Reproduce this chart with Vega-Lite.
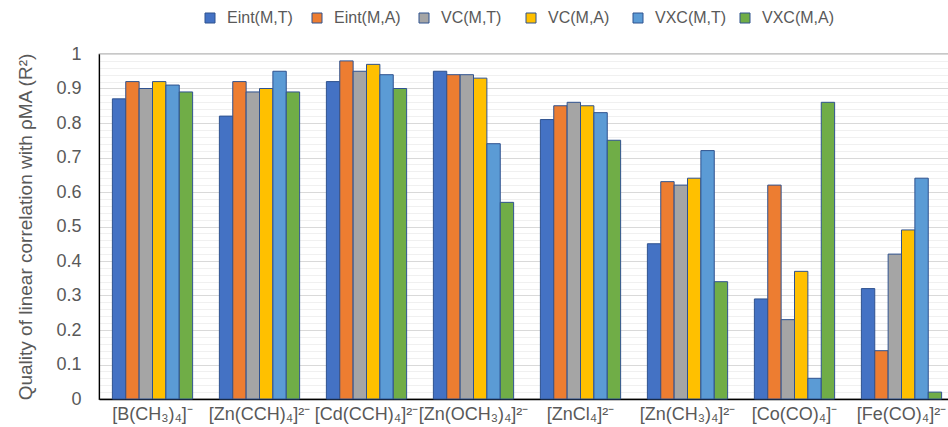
{
  "$schema": "https://vega.github.io/schema/vega-lite/v6.json",
  "width": 856,
  "height": 345,
  "autosize": {"type": "none"},
  "padding": {"left": 99, "top": 54, "right": 0, "bottom": 28},
  "background": "white",
  "config": {"font": "Liberation Sans", "view": {"stroke": "#262626", "strokeWidth": 1.2}},
  "datasets": {
    "vals": [
      {"complex": "[B(CH₃)₄]⁻", "series": "Eint(M,T)", "r2": 0.87},
      {"complex": "[B(CH₃)₄]⁻", "series": "Eint(M,A)", "r2": 0.92},
      {"complex": "[B(CH₃)₄]⁻", "series": "VC(M,T)", "r2": 0.90},
      {"complex": "[B(CH₃)₄]⁻", "series": "VC(M,A)", "r2": 0.92},
      {"complex": "[B(CH₃)₄]⁻", "series": "VXC(M,T)", "r2": 0.91},
      {"complex": "[B(CH₃)₄]⁻", "series": "VXC(M,A)", "r2": 0.89},
      {"complex": "[Zn(CCH)₄]²⁻", "series": "Eint(M,T)", "r2": 0.82},
      {"complex": "[Zn(CCH)₄]²⁻", "series": "Eint(M,A)", "r2": 0.92},
      {"complex": "[Zn(CCH)₄]²⁻", "series": "VC(M,T)", "r2": 0.89},
      {"complex": "[Zn(CCH)₄]²⁻", "series": "VC(M,A)", "r2": 0.90},
      {"complex": "[Zn(CCH)₄]²⁻", "series": "VXC(M,T)", "r2": 0.95},
      {"complex": "[Zn(CCH)₄]²⁻", "series": "VXC(M,A)", "r2": 0.89},
      {"complex": "[Cd(CCH)₄]²⁻", "series": "Eint(M,T)", "r2": 0.92},
      {"complex": "[Cd(CCH)₄]²⁻", "series": "Eint(M,A)", "r2": 0.98},
      {"complex": "[Cd(CCH)₄]²⁻", "series": "VC(M,T)", "r2": 0.95},
      {"complex": "[Cd(CCH)₄]²⁻", "series": "VC(M,A)", "r2": 0.97},
      {"complex": "[Cd(CCH)₄]²⁻", "series": "VXC(M,T)", "r2": 0.94},
      {"complex": "[Cd(CCH)₄]²⁻", "series": "VXC(M,A)", "r2": 0.90},
      {"complex": "[Zn(OCH₃)₄]²⁻", "series": "Eint(M,T)", "r2": 0.95},
      {"complex": "[Zn(OCH₃)₄]²⁻", "series": "Eint(M,A)", "r2": 0.94},
      {"complex": "[Zn(OCH₃)₄]²⁻", "series": "VC(M,T)", "r2": 0.94},
      {"complex": "[Zn(OCH₃)₄]²⁻", "series": "VC(M,A)", "r2": 0.93},
      {"complex": "[Zn(OCH₃)₄]²⁻", "series": "VXC(M,T)", "r2": 0.74},
      {"complex": "[Zn(OCH₃)₄]²⁻", "series": "VXC(M,A)", "r2": 0.57},
      {"complex": "[ZnCl₄]²⁻", "series": "Eint(M,T)", "r2": 0.81},
      {"complex": "[ZnCl₄]²⁻", "series": "Eint(M,A)", "r2": 0.85},
      {"complex": "[ZnCl₄]²⁻", "series": "VC(M,T)", "r2": 0.86},
      {"complex": "[ZnCl₄]²⁻", "series": "VC(M,A)", "r2": 0.85},
      {"complex": "[ZnCl₄]²⁻", "series": "VXC(M,T)", "r2": 0.83},
      {"complex": "[ZnCl₄]²⁻", "series": "VXC(M,A)", "r2": 0.75},
      {"complex": "[Zn(CH₃)₄]²⁻", "series": "Eint(M,T)", "r2": 0.45},
      {"complex": "[Zn(CH₃)₄]²⁻", "series": "Eint(M,A)", "r2": 0.63},
      {"complex": "[Zn(CH₃)₄]²⁻", "series": "VC(M,T)", "r2": 0.62},
      {"complex": "[Zn(CH₃)₄]²⁻", "series": "VC(M,A)", "r2": 0.64},
      {"complex": "[Zn(CH₃)₄]²⁻", "series": "VXC(M,T)", "r2": 0.72},
      {"complex": "[Zn(CH₃)₄]²⁻", "series": "VXC(M,A)", "r2": 0.34},
      {"complex": "[Co(CO)₄]⁻", "series": "Eint(M,T)", "r2": 0.29},
      {"complex": "[Co(CO)₄]⁻", "series": "Eint(M,A)", "r2": 0.62},
      {"complex": "[Co(CO)₄]⁻", "series": "VC(M,T)", "r2": 0.23},
      {"complex": "[Co(CO)₄]⁻", "series": "VC(M,A)", "r2": 0.37},
      {"complex": "[Co(CO)₄]⁻", "series": "VXC(M,T)", "r2": 0.06},
      {"complex": "[Co(CO)₄]⁻", "series": "VXC(M,A)", "r2": 0.86},
      {"complex": "[Fe(CO)₄]²⁻", "series": "Eint(M,T)", "r2": 0.32},
      {"complex": "[Fe(CO)₄]²⁻", "series": "Eint(M,A)", "r2": 0.14},
      {"complex": "[Fe(CO)₄]²⁻", "series": "VC(M,T)", "r2": 0.42},
      {"complex": "[Fe(CO)₄]²⁻", "series": "VC(M,A)", "r2": 0.49},
      {"complex": "[Fe(CO)₄]²⁻", "series": "VXC(M,T)", "r2": 0.64},
      {"complex": "[Fe(CO)₄]²⁻", "series": "VXC(M,A)", "r2": 0.02}
    ]
  },
  "data": {"name": "vals"},
  "mark": {"type": "bar", "stroke": "#2F528F", "strokeWidth": 1},
  "encoding": {
    "x": {
      "field": "complex",
      "type": "nominal",
      "sort": null,
      "scale": {"paddingInner": 0.25, "paddingOuter": 0.125},
      "axis": {
        "title": null,
        "labelAngle": 0,
        "labelFontSize": 18,
        "labelColor": "#595959",
        "labelPadding": 6,
        "labelLimit": 0,
        "ticks": false,
        "domainColor": "#000000",
        "domainWidth": 1.5
      }
    },
    "xOffset": {
      "field": "series",
      "type": "nominal",
      "sort": ["Eint(M,T)", "Eint(M,A)", "VC(M,T)", "VC(M,A)", "VXC(M,T)", "VXC(M,A)"],
      "scale": {"paddingInner": 0, "paddingOuter": 0}
    },
    "y": {
      "field": "r2",
      "type": "quantitative",
      "scale": {"domain": [0, 1], "nice": false},
      "axis": {
        "values": [0, 0.02, 0.04, 0.06, 0.08, 0.1, 0.12, 0.14, 0.16, 0.18, 0.2, 0.22, 0.24, 0.26, 0.28, 0.3, 0.32, 0.34, 0.36, 0.38, 0.4, 0.42, 0.44, 0.46, 0.48, 0.5, 0.52, 0.54, 0.56, 0.58, 0.6, 0.62, 0.64, 0.66, 0.68, 0.7, 0.72, 0.74, 0.76, 0.78, 0.8, 0.82, 0.84, 0.86, 0.88, 0.9, 0.92, 0.94, 0.96, 0.98, 1],
        "grid": true,
        "gridColor": {"condition": {"test": "round(datum.value*50) % 5 == 0", "value": "#d9d9d9"}, "value": "#f0f0f0"},
        "gridWidth": 1,
        "labelExpr": "round(datum.value*50) % 5 == 0 ? toString(round(datum.value*10)/10) : ''",
        "labelOverlap": false,
        "labelFlush": false,
        "ticks": false,
        "domainColor": "#000000",
        "domainWidth": 1.2,
        "labelFontSize": 18,
        "labelColor": "#595959",
        "labelPadding": 18,
        "title": "Quality of linear correlation with ρMA (R²)",
        "titleFontSize": 19,
        "titleFontWeight": "normal",
        "titleColor": "#595959",
        "titlePadding": 20
      }
    },
    "color": {
      "field": "series",
      "type": "nominal",
      "scale": {
        "domain": ["Eint(M,T)", "Eint(M,A)", "VC(M,T)", "VC(M,A)", "VXC(M,T)", "VXC(M,A)"],
        "range": ["#4472C4", "#ED7D31", "#A5A5A5", "#FFC000", "#5B9BD5", "#70AD47"]
      },
      "legend": {
        "title": null,
        "orient": "none",
        "legendX": 103,
        "legendY": -44,
        "direction": "horizontal",
        "columns": 6,
        "gridAlign": "all",
        "columnPadding": 10,
        "symbolType": "square",
        "symbolSize": 100,
        "symbolStrokeColor": "#2F528F",
        "symbolStrokeWidth": 1,
        "labelFontSize": 16,
        "labelColor": "#595959",
        "labelOffset": 9
      }
    }
  }
}
